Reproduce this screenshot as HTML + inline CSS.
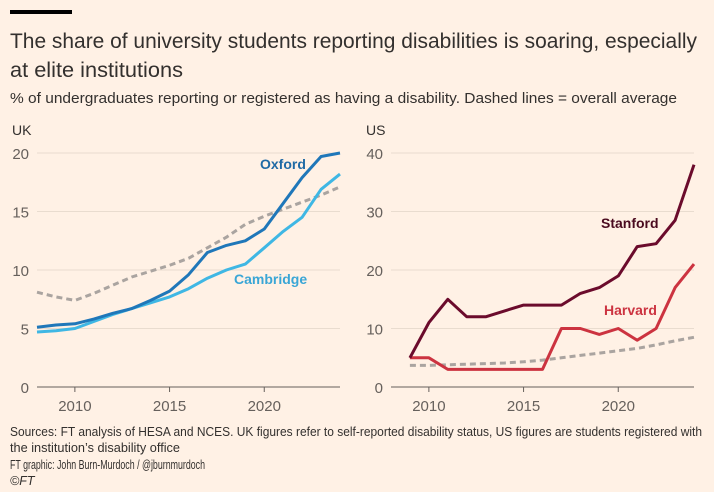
<!DOCTYPE html>
<html><head><meta charset="utf-8">
<style>
body{margin:0;background:#fff1e5;}
svg{display:block;font-family:"Liberation Sans",sans-serif;}
</style></head>
<body>
<svg id="chart" width="714" height="492" viewBox="0 0 714 492">
<rect width="714" height="492" fill="#fff1e5"/>
<rect x="10" y="10" width="62" height="4" fill="#000"/>
<text x="10" y="48" font-size="21" fill="#33302e" textLength="687" lengthAdjust="spacingAndGlyphs">The share of university students reporting disabilities is soaring, especially</text>
<text x="10" y="77" font-size="21" fill="#33302e" textLength="173" lengthAdjust="spacingAndGlyphs">at elite institutions</text>
<text x="10" y="103" font-size="15" fill="#33302e" textLength="667" lengthAdjust="spacingAndGlyphs">% of undergraduates reporting or registered as having a disability. Dashed lines = overall average</text>
<text x="12" y="135" font-size="14" fill="#33302e">UK</text>
<text x="366" y="135" font-size="14" fill="#33302e">US</text>
<g id="uk"></g>
<g id="us"></g>
<text x="10" y="436" font-size="12.5" fill="#33302e" textLength="692" lengthAdjust="spacingAndGlyphs">Sources: FT analysis of HESA and NCES. UK figures refer to self-reported disability status, US figures are students registered with</text>
<text x="10" y="452" font-size="12.5" fill="#33302e" textLength="170" lengthAdjust="spacingAndGlyphs">the institution’s disability office</text>
<text x="10" y="469" font-size="12.5" fill="#33302e" textLength="195" lengthAdjust="spacingAndGlyphs">FT graphic: John Burn-Murdoch / @jburnmurdoch</text>
<text x="10" y="485" font-size="12.5" fill="#33302e" font-style="italic">©FT</text>
</svg>
<script>
const ukYears = [2008,2009,2010,2011,2012,2013,2014,2015,2016,2017,2018,2019,2020,2021,2022,2023,2024];
const oxford = [5.1,5.3,5.4,5.8,6.3,6.7,7.4,8.2,9.6,11.5,12.1,12.5,13.5,15.7,17.9,19.7,20.0];
const cambridge = [4.7,4.8,5.0,5.6,6.2,6.7,7.2,7.7,8.4,9.3,10.0,10.5,11.9,13.3,14.5,16.9,18.2];
const ukAverage = [8.1,7.7,7.4,8.0,8.7,9.4,9.9,10.4,11.0,11.9,12.8,13.9,14.6,15.2,15.8,16.4,17.1];
const ukYTicks = [0,5,10,15,20];
const usYears = [2009,2010,2011,2012,2013,2014,2015,2016,2017,2018,2019,2020,2021,2022,2023,2024];
const stanford = [5,11,15,12,12,13,14,14,14,16,17,19,24,24.5,28.5,38];
const harvard = [5,5,3,3,3,3,3,3,10,10,9,10,8,10,17,21];
const usAverage = [3.7,3.7,3.8,3.9,4.0,4.1,4.3,4.6,5.0,5.4,5.8,6.2,6.6,7.2,7.9,8.5];
const usYTicks = [0,10,20,30,40];
const xTicks = [2010,2015,2020];

const NS = "http://www.w3.org/2000/svg";
function mk(parent, tag, attrs){
  const e = document.createElementNS(NS, tag);
  for (const k in attrs) e.setAttribute(k, attrs[k]);
  parent.appendChild(e);
  return e;
}
function panel(gid, cfg){
  const g = document.getElementById(gid);
  const x = v => cfg.x0 + (v - cfg.xmin) / (cfg.xmax - cfg.xmin) * (cfg.x1 - cfg.x0);
  const y = v => 387 - v / cfg.ymax * 234;
  cfg.yTicks.forEach(t => {
    if (t > 0) {
      const gl = mk(g, "line", {x1: cfg.x0, x2: cfg.x1, y1: y(t), y2: y(t), stroke: "#e9dccf", "stroke-width": 1});
      
      
    }
    const tl = mk(g, "text", {x: cfg.labelX, y: y(t) + 6, "font-size": 15, fill: "#66605c", "text-anchor": "end"});
    tl.textContent = t;
    
    
  });
  const ax = mk(g, "line", {x1: cfg.x0, x2: cfg.x1, y1: 387, y2: 387, stroke: "#66605c", "stroke-width": 1});
  
  
  xTicks.forEach(t => {
    const tk = mk(g, "line", {x1: x(t), x2: x(t), y1: 387, y2: 392, stroke: "#66605c"});
    
    
    const tl = mk(g, "text", {x: x(t), y: 411, "font-size": 15, fill: "#66605c", "text-anchor": "middle"});
    tl.textContent = t;
    
    
  });
  cfg.series.forEach(s => {
    const d = s.vals.map((v, i) => (i ? "L" : "M") + x(cfg.years[i]).toFixed(1) + "," + y(v).toFixed(1)).join("");
    const attrs = {d: d, fill: "none", stroke: s.color, "stroke-width": s.dash ? 3 : 3, "stroke-linejoin": "round"};
    if (s.dash) attrs["stroke-dasharray"] = "6,4";
    const p = mk(g, "path", attrs);
    
    
  });
  cfg.labels.forEach(l => {
    const t = mk(g, "text", {x: l.x, y: l.y, "font-size": 14, "font-weight": "bold", fill: l.color});
    t.textContent = l.text;
    
    
  });
}
panel("uk", {x0: 37, x1: 340, xmin: 2008, xmax: 2024, ymax: 20, yTicks: ukYTicks, labelX: 29, years: ukYears,
  series: [
    {name: "uk-average-line", vals: ukAverage, color: "#aaa4a0", dash: true},
    {name: "cambridge-line", vals: cambridge, color: "#3fb7e4"},
    {name: "oxford-line", vals: oxford, color: "#1f77b9"}
  ],
  labels: [
    {text: "Oxford", x: 260, y: 169, color: "#1f6aa5", name: "oxford-label"},
    {text: "Cambridge", x: 234, y: 284, color: "#3aa6d6", name: "cambridge-label"}
  ]});
panel("us", {x0: 391, x1: 694, xmin: 2008, xmax: 2024, ymax: 40, yTicks: usYTicks, labelX: 383, years: usYears,
  series: [
    {name: "us-average-line", vals: usAverage, color: "#aaa4a0", dash: true},
    {name: "harvard-line", vals: harvard, color: "#cc3340"},
    {name: "stanford-line", vals: stanford, color: "#6b0b2c"}
  ],
  labels: [
    {text: "Stanford", x: 601, y: 228, color: "#4a0a1f", name: "stanford-label"},
    {text: "Harvard", x: 604, y: 315, color: "#cc3340", name: "harvard-label"}
  ]});
</script>
</body></html>
